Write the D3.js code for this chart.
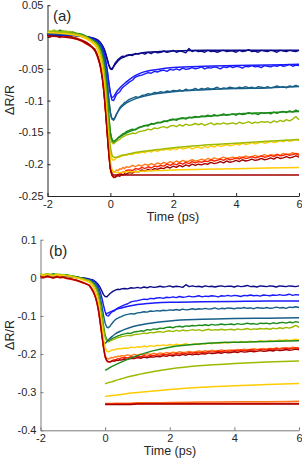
<!DOCTYPE html>
<html><head><meta charset="utf-8">
<script src="https://cdn.jsdelivr.net/npm/d3@7"></script>
<style>body{margin:0;background:#fff}svg{display:block}text{font-family:"Liberation Sans",Arial,sans-serif;fill:#262626}</style>
</head><body><svg id="c" width="302" height="461"></svg>
<script>
// ---- data ----
const time = [-2,-1.9,-1.8,-1.7,-1.6,-1.5,-1.4,-1.3,-1.2,-1.1,-1,-0.9,-0.8,-0.7,-0.6,-0.5,
 -0.45,-0.4,-0.35,-0.3,-0.25,-0.2,-0.15,-0.1,-0.05,0,0.05,0.1,0.15,0.2,0.25,0.3,0.35,0.4,0.45,0.5,
 0.6,0.7,0.8,0.9,1,1.1,1.2,1.3,1.4,1.5,1.6,
 1.7,1.8,1.9,2,2.1,2.2,2.3,2.4,2.5,2.6,2.7,
 2.8,2.9,3,3.1,3.2,3.3,3.4,3.5,3.6,3.7,3.8,
 3.9,4,4.1,4.2,4.3,4.4,4.5,4.6,4.7,4.8,4.9,
 5,5.1,5.2,5.3,5.4,5.5,5.6,5.7,5.8,5.9,6];

const navyData = [0.005,0.003,0.006,0.004,0.002,0.005,0.004,0.006,0.003,0.004,0.002,0.003,0.001,0.000,-0.001,-0.003,
 -0.004,-0.005,-0.007,-0.010,-0.014,-0.019,-0.026,-0.035,-0.044,-0.049,-0.050,-0.046,-0.041,-0.038,-0.035,-0.033,-0.031,-0.030,-0.031,-0.029,
 -0.028,-0.029,-0.026,-0.027,-0.025,-0.027,-0.024,-0.026,-0.023,-0.025,-0.024,
 -0.022,-0.024,-0.023,-0.021,-0.024,-0.022,-0.023,-0.025,-0.018,-0.023,-0.021,
 -0.023,-0.022,-0.024,-0.021,-0.023,-0.022,-0.024,-0.022,-0.021,-0.023,-0.022,
 -0.022,-0.024,-0.021,-0.023,-0.022,-0.020,-0.023,-0.022,-0.024,-0.021,-0.022,
 -0.023,-0.021,-0.022,-0.024,-0.021,-0.022,-0.023,-0.021,-0.022,-0.023,-0.021];
const blueData = [0.004,0.006,0.003,0.005,0.004,0.002,0.005,0.003,0.004,0.002,0.003,0.001,0.000,-0.001,-0.003,-0.004,
 -0.005,-0.007,-0.009,-0.012,-0.017,-0.025,-0.037,-0.053,-0.072,-0.089,-0.099,-0.100,-0.095,-0.090,-0.088,-0.086,-0.082,-0.079,-0.077,-0.075,
 -0.071,-0.068,-0.063,-0.061,-0.060,-0.058,-0.056,-0.057,-0.054,-0.055,-0.053,
 -0.052,-0.054,-0.051,-0.052,-0.050,-0.052,-0.049,-0.051,-0.050,-0.048,-0.050,
 -0.049,-0.047,-0.050,-0.048,-0.049,-0.047,-0.048,-0.050,-0.047,-0.048,-0.046,
 -0.048,-0.046,-0.047,-0.049,-0.046,-0.047,-0.045,-0.047,-0.046,-0.048,-0.045,
 -0.046,-0.047,-0.045,-0.046,-0.044,-0.046,-0.045,-0.043,-0.046,-0.044,-0.045];
const tealData = [0.006,0.004,0.007,0.005,0.003,0.006,0.004,0.005,0.003,0.004,0.002,0.001,0.000,-0.002,-0.004,-0.006,
 -0.007,-0.009,-0.012,-0.016,-0.023,-0.034,-0.050,-0.072,-0.098,-0.119,-0.129,-0.131,-0.127,-0.121,-0.116,-0.111,-0.108,-0.106,-0.103,-0.102,
 -0.098,-0.096,-0.094,-0.095,-0.092,-0.091,-0.089,-0.090,-0.087,-0.088,-0.086,
 -0.087,-0.085,-0.086,-0.084,-0.085,-0.083,-0.085,-0.082,-0.084,-0.083,-0.081,
 -0.083,-0.081,-0.082,-0.080,-0.082,-0.081,-0.079,-0.082,-0.080,-0.081,-0.079,
 -0.080,-0.081,-0.079,-0.080,-0.078,-0.080,-0.079,-0.081,-0.078,-0.079,-0.080,
 -0.078,-0.080,-0.079,-0.077,-0.079,-0.078,-0.080,-0.077,-0.078,-0.076,-0.078];
const greenData = [0.009,0.007,0.010,0.008,0.011,0.008,0.009,0.007,0.008,0.006,0.005,0.003,0.001,-0.001,-0.004,-0.006,
 -0.009,-0.012,-0.016,-0.022,-0.031,-0.045,-0.066,-0.094,-0.125,-0.150,-0.162,-0.166,-0.164,-0.161,-0.158,-0.156,-0.154,-0.152,-0.151,-0.149,
 -0.147,-0.145,-0.146,-0.142,-0.141,-0.139,-0.140,-0.136,-0.137,-0.134,-0.135,
 -0.132,-0.133,-0.130,-0.129,-0.131,-0.128,-0.127,-0.129,-0.126,-0.127,-0.125,
 -0.126,-0.124,-0.125,-0.123,-0.125,-0.122,-0.124,-0.123,-0.121,-0.123,-0.122,
 -0.121,-0.123,-0.120,-0.122,-0.121,-0.119,-0.121,-0.120,-0.122,-0.119,-0.120,
 -0.119,-0.121,-0.118,-0.120,-0.118,-0.117,-0.119,-0.116,-0.118,-0.115,-0.117];
const yellowGreenData = [0.010,0.008,0.011,0.009,0.007,0.010,0.008,0.009,0.007,0.006,0.004,0.002,0.000,-0.002,-0.005,-0.007,
 -0.010,-0.014,-0.019,-0.026,-0.036,-0.052,-0.075,-0.104,-0.135,-0.157,-0.166,-0.168,-0.166,-0.164,-0.162,-0.161,-0.158,-0.157,-0.156,-0.154,
 -0.153,-0.151,-0.152,-0.149,-0.148,-0.147,-0.145,-0.146,-0.143,-0.144,-0.142,
 -0.141,-0.143,-0.140,-0.139,-0.141,-0.138,-0.140,-0.137,-0.139,-0.138,-0.136,
 -0.138,-0.136,-0.139,-0.137,-0.135,-0.138,-0.136,-0.137,-0.135,-0.137,-0.136,
 -0.135,-0.137,-0.134,-0.136,-0.135,-0.133,-0.136,-0.134,-0.135,-0.133,-0.134,
 -0.133,-0.135,-0.132,-0.134,-0.131,-0.133,-0.130,-0.132,-0.129,-0.125,-0.130];
const yellowData = [0.008,0.006,0.009,0.007,0.005,0.008,0.006,0.007,0.005,0.004,0.002,0.000,-0.002,-0.005,-0.008,-0.012,
 -0.015,-0.020,-0.027,-0.036,-0.050,-0.070,-0.097,-0.128,-0.160,-0.182,-0.192,-0.194,-0.192,-0.190,-0.189,-0.189,-0.186,-0.187,-0.185,-0.186,
 -0.184,-0.185,-0.182,-0.183,-0.181,-0.182,-0.179,-0.181,-0.178,-0.180,-0.177,
 -0.178,-0.176,-0.178,-0.175,-0.177,-0.174,-0.176,-0.175,-0.173,-0.176,-0.174,
 -0.173,-0.175,-0.172,-0.174,-0.171,-0.173,-0.170,-0.172,-0.171,-0.169,-0.171,
 -0.170,-0.168,-0.170,-0.167,-0.169,-0.168,-0.166,-0.168,-0.167,-0.165,-0.167,
 -0.166,-0.164,-0.166,-0.165,-0.163,-0.165,-0.162,-0.164,-0.163,-0.161,-0.163];
const orangeData = [0.004,0.002,0.005,0.003,0.001,0.004,0.002,0.003,0.000,-0.001,-0.003,-0.005,-0.008,-0.011,-0.015,-0.019,
 -0.023,-0.029,-0.037,-0.048,-0.064,-0.087,-0.117,-0.150,-0.181,-0.203,-0.211,-0.213,-0.211,-0.209,-0.210,-0.207,-0.208,-0.205,-0.207,-0.204,
 -0.205,-0.202,-0.204,-0.201,-0.203,-0.200,-0.202,-0.199,-0.201,-0.198,-0.200,
 -0.197,-0.199,-0.196,-0.198,-0.195,-0.197,-0.194,-0.196,-0.195,-0.193,-0.195,
 -0.194,-0.192,-0.194,-0.191,-0.193,-0.190,-0.192,-0.191,-0.189,-0.191,-0.190,
 -0.189,-0.191,-0.188,-0.190,-0.187,-0.189,-0.188,-0.186,-0.188,-0.187,-0.185,
 -0.187,-0.185,-0.186,-0.184,-0.186,-0.183,-0.185,-0.184,-0.182,-0.184,-0.183];
const redData = [0.002,0.000,0.003,0.001,-0.001,0.002,0.000,0.001,-0.002,-0.003,-0.005,-0.007,-0.010,-0.013,-0.016,-0.020,
 -0.026,-0.033,-0.041,-0.052,-0.068,-0.090,-0.120,-0.152,-0.184,-0.208,-0.218,-0.221,-0.220,-0.218,-0.216,-0.215,-0.214,-0.212,-0.213,-0.210,
 -0.209,-0.210,-0.207,-0.208,-0.205,-0.207,-0.204,-0.206,-0.203,-0.204,-0.202,
 -0.203,-0.200,-0.202,-0.199,-0.201,-0.198,-0.200,-0.197,-0.199,-0.196,-0.198,
 -0.196,-0.197,-0.195,-0.196,-0.193,-0.195,-0.194,-0.192,-0.194,-0.191,-0.193,
 -0.192,-0.190,-0.192,-0.189,-0.191,-0.190,-0.188,-0.190,-0.189,-0.187,-0.189,
 -0.188,-0.186,-0.188,-0.185,-0.187,-0.186,-0.184,-0.186,-0.185,-0.183,-0.186];
const darkRedData = [0.003,0.001,0.004,0.002,0.000,0.003,0.001,0.002,-0.001,-0.002,-0.004,-0.006,-0.009,-0.012,-0.015,-0.019,
 -0.024,-0.031,-0.039,-0.050,-0.066,-0.088,-0.118,-0.150,-0.182,-0.207,-0.217,-0.220,-0.221,-0.219,-0.218,-0.219,-0.216,-0.217,-0.215,-0.216,
 -0.213,-0.214,-0.211,-0.212,-0.209,-0.211,-0.208,-0.210,-0.207,-0.208,-0.206,
 -0.207,-0.204,-0.206,-0.203,-0.205,-0.202,-0.204,-0.201,-0.203,-0.200,-0.202,
 -0.200,-0.201,-0.199,-0.200,-0.197,-0.199,-0.198,-0.196,-0.198,-0.195,-0.197,
 -0.196,-0.194,-0.196,-0.193,-0.195,-0.194,-0.192,-0.194,-0.193,-0.191,-0.193,
 -0.192,-0.190,-0.192,-0.189,-0.191,-0.190,-0.188,-0.190,-0.189,-0.187,-0.189];

// fits, panel (a)
const fitTimeA = [-2,-1,-0.6,-0.4,-0.3,-0.2,-0.1,-0.05,0,0.05,0.1,0.2,0.3,0.5,0.75,1,1.5,2,3,4,5,6];
const navyFitA = [0.003,0.002,-0.001,-0.005,-0.010,-0.019,-0.035,-0.044,-0.050,-0.051,-0.047,-0.040,-0.035,-0.030,-0.027,-0.025,-0.023,-0.022,-0.021,-0.021,-0.021,-0.021];
const blueFitA = [0.004,0.002,-0.002,-0.007,-0.012,-0.025,-0.053,-0.072,-0.088,-0.095,-0.094,-0.086,-0.080,-0.071,-0.062,-0.056,-0.051,-0.048,-0.046,-0.045,-0.044,-0.043];
const tealFitA = [0.005,0.002,-0.004,-0.009,-0.016,-0.034,-0.072,-0.098,-0.119,-0.128,-0.129,-0.121,-0.113,-0.104,-0.098,-0.094,-0.089,-0.086,-0.083,-0.081,-0.080,-0.078];
const greenFitA = [0.008,0.005,-0.004,-0.012,-0.022,-0.045,-0.094,-0.125,-0.150,-0.161,-0.164,-0.161,-0.157,-0.151,-0.146,-0.141,-0.135,-0.130,-0.125,-0.121,-0.119,-0.117];
const yellowGreenFitA = [0.009,0.004,-0.005,-0.014,-0.026,-0.052,-0.108,-0.145,-0.172,-0.185,-0.189,-0.189,-0.187,-0.185,-0.182,-0.180,-0.177,-0.174,-0.170,-0.167,-0.164,-0.161];
const yellowFitA = [0.007,0.002,-0.008,-0.020,-0.036,-0.070,-0.130,-0.168,-0.196,-0.208,-0.212,-0.213,-0.213,-0.212,-0.212,-0.211,-0.210,-0.209,-0.208,-0.207,-0.206,-0.205];
const darkRedFitA = [0.002,-0.004,-0.015,-0.031,-0.050,-0.088,-0.150,-0.182,-0.207,-0.215,-0.217,-0.217,-0.217,-0.217,-0.217,-0.217,-0.217,-0.217,-0.217,-0.217,-0.217,-0.217];

// fits, panel (b)
const fitTimeB = [0,0.1,0.2,0.3,0.5,0.75,1,1.5,2,3,4,5,6];
const blueFitB = [-0.095,-0.092,-0.088,-0.084,-0.079,-0.074,-0.070,-0.066,-0.064,-0.063,-0.062,-0.061,-0.061];
const tealFitB = [-0.172,-0.163,-0.155,-0.148,-0.139,-0.131,-0.125,-0.118,-0.113,-0.109,-0.107,-0.106,-0.105];
const greenFitB = [-0.243,-0.238,-0.233,-0.229,-0.221,-0.212,-0.204,-0.191,-0.182,-0.173,-0.169,-0.167,-0.165];
const yellowGreenFitB = [-0.278,-0.275,-0.273,-0.270,-0.265,-0.259,-0.254,-0.246,-0.239,-0.230,-0.225,-0.221,-0.218];
const yellowFitB = [-0.311,-0.310,-0.309,-0.308,-0.306,-0.303,-0.301,-0.297,-0.293,-0.287,-0.283,-0.280,-0.277];
const orangeFitB = [-0.330,-0.330,-0.330,-0.329,-0.329,-0.329,-0.328,-0.328,-0.327,-0.326,-0.325,-0.325,-0.324];
const redFitB = [-0.331,-0.331,-0.331,-0.331,-0.331,-0.331,-0.330,-0.330,-0.330,-0.330,-0.330,-0.330,-0.330];
const darkRedFitB = [-0.332,-0.332,-0.332,-0.332,-0.332,-0.332,-0.331,-0.331,-0.331,-0.331,-0.331,-0.331,-0.331];

const xTicks = [-2,0,2,4,6];
const yTicksA = [0.05,0,-0.05,-0.1,-0.15,-0.2,-0.25];
const yTicksB = [0.1,0,-0.1,-0.2,-0.3,-0.4];

// ---- styling ----
const colors = {navy:"#0c0c8a", blue:"#1a1aff", teal:"#175f88", green:"#1c8c1c", yellowGreen:"#9cba00", yellow:"#ffcc00", orange:"#ff7a1a", red:"#ff2200", darkRed:"#a30000"};
const dataSeries = [
  [navyData,colors.navy],[blueData,colors.blue],[tealData,colors.teal],[greenData,colors.green],
  [yellowGreenData,colors.yellowGreen],[yellowData,colors.yellow],[orangeData,colors.orange],
  [redData,colors.red],[darkRedData,colors.darkRed]];
const fitsA = [[navyFitA,colors.navy],[blueFitA,colors.blue],[tealFitA,colors.teal],[greenFitA,colors.green],
  [yellowGreenFitA,colors.yellowGreen],[yellowFitA,colors.yellow],[darkRedFitA,colors.darkRed]];
const fitsB = [[blueFitB,colors.blue],[tealFitB,colors.teal],[greenFitB,colors.green],[yellowGreenFitB,colors.yellowGreen],
  [yellowFitB,colors.yellow],[orangeFitB,colors.orange],[redFitB,colors.red],[darkRedFitB,colors.darkRed]];

const svg = d3.select("#c");

function panel(opts){
  const {x, y, yTicks, axisColor, label, labelPos, titleX, titleY, ylabY, fits, fitTime} = opts;
  const g = svg.append("g");
  const fmt = d => String(d);
  const xa = g.append("g").attr("transform",`translate(0,${y.range()[0]})`)
    .call(d3.axisBottom(x).tickValues(xTicks).tickSizeInner(-3).tickSizeOuter(0).tickPadding(4).tickFormat(fmt));
  const ya = g.append("g").attr("transform",`translate(${x.range()[0]},0)`)
    .call(d3.axisLeft(y).tickValues(yTicks).tickSizeInner(-3).tickSizeOuter(0).tickPadding(4).tickFormat(fmt));
  [xa,ya].forEach(a=>{
    a.select(".domain").attr("stroke",axisColor).attr("stroke-width",1);
    a.selectAll(".tick line").attr("stroke",axisColor);
    a.selectAll("text").attr("font-size",11).attr("font-family","Liberation Sans, Arial, sans-serif").attr("fill","#262626");
  });
  const line = d3.line().x(d=>x(d[0])).y(d=>y(d[1]));
  dataSeries.forEach(([vals,c])=>{
    g.append("path").datum(time.map((t,i)=>[t,vals[i]]))
      .attr("d",line).attr("fill","none").attr("stroke",c).attr("stroke-width",1.4).attr("stroke-linejoin","round");
  });
  const fline = d3.line().x(d=>x(d[0])).y(d=>y(d[1])).curve(d3.curveMonotoneX);
  fits.forEach(([vals,c])=>{
    g.append("path").datum(fitTime.map((t,i)=>[t,vals[i]]))
      .attr("d",fline).attr("fill","none").attr("stroke",c).attr("stroke-width",1.5);
  });
  g.append("text").attr("x",labelPos[0]).attr("y",labelPos[1]).attr("font-size",15).text(label);
  g.append("text").attr("x",titleX).attr("y",titleY).attr("text-anchor","middle").attr("font-size",12.5).text("Time (ps)");
  g.append("text").attr("transform",`translate(13.5,${ylabY}) rotate(-90)`).attr("text-anchor","middle").attr("font-size",12.5).text("ΔR/R");
}

panel({
  x: d3.scaleLinear().domain([-2,6]).range([47.5,299]),
  y: d3.scaleLinear().domain([-0.25,0.05]).range([196,5.2]),
  yTicks: yTicksA, axisColor:"#262626", label:"(a)", labelPos:[53,21],
  titleX:173, titleY:221, ylabY:100, fits:fitsA, fitTime:fitTimeA
});
panel({
  x: d3.scaleLinear().domain([-2,6]).range([40.5,299]),
  y: d3.scaleLinear().domain([-0.4,0.1]).range([430.3,239.7]),
  yTicks: yTicksB, axisColor:"#7a7a7a", label:"(b)", labelPos:[49,256],
  titleX:170, titleY:455, ylabY:335, fits:fitsB, fitTime:fitTimeB
});
</script></body></html>
